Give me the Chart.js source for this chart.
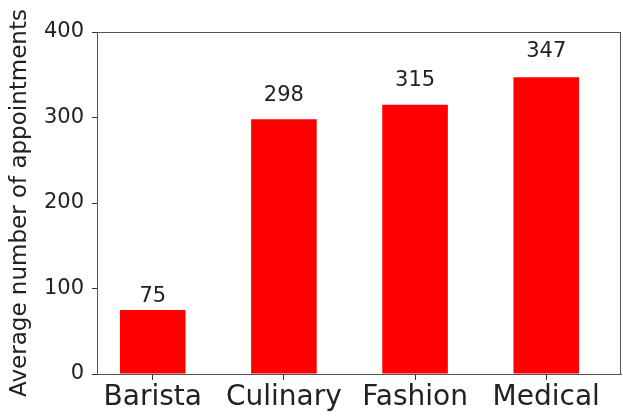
<!DOCTYPE html>
<html>
<head>
<meta charset="utf-8">
<script src="https://cdn.jsdelivr.net/npm/chart.js@4/dist/chart.umd.min.js"></script>
<style>
  html, body { margin: 0; padding: 0; background: #fff; }
  #wrap { width: 623px; height: 420px; }
</style>
</head>
<body>
<div id="wrap"><canvas id="chart" width="623" height="420"></canvas></div>
<script>
const categories = ['Barista', 'Culinary', 'Fashion', 'Medical'];
const appointments = [75, 298, 315, 347];
const yTicks = [0, 100, 200, 300, 400];

const textColor = '#222';
const fontFamily = "'DejaVu Sans', sans-serif";

// frame around the plot, like matplotlib spines
const frameBox = {
    id: 'frameBox',
    afterDraw(chart) {
        const a = chart.chartArea;
        const c = chart.ctx;
        c.save();
        c.strokeStyle = '#555';
        c.lineWidth = 1;
        c.strokeRect(Math.round(a.left) + 0.5, Math.round(a.top) + 0.5,
            Math.round(a.right - a.left) - 1, Math.round(a.bottom - a.top));
        c.restore();
    }
};

// value text above each bar
const barLabels = {
    id: 'barLabels',
    afterDatasetsDraw(chart) {
        const c = chart.ctx;
        const y = chart.scales.y;
        const meta = chart.getDatasetMeta(0);
        c.save();
        c.font = '21px ' + fontFamily;
        c.fillStyle = textColor;
        c.textAlign = 'center';
        c.textBaseline = 'bottom';
        meta.data.forEach((bar, i) => {
            const v = appointments[i];
            c.fillText(String(v), bar.x, y.getPixelForValue(v * 1.05));
        });
        c.restore();
    }
};

const ctx = document.getElementById('chart');

var myChart = new Chart(ctx, {
    type: 'bar',
    data: {
        datasets: [{
            data: appointments.map((v, i) => ({ x: i, y: v })),
            backgroundColor: '#ff0000',
            borderWidth: 0,
            barPercentage: 0.5,
            categoryPercentage: 1.0
        }]
    },
    options: {
        responsive: false,
        animation: false,
        devicePixelRatio: 1,
        layout: { padding: { top: 32, right: 2, left: 0, bottom: 0 } },
        plugins: {
            legend: { display: false },
            tooltip: { enabled: false }
        },
        scales: {
            x: {
                type: 'linear',
                offset: false,
                min: -0.425,
                max: 3.57,
                afterFit: s => { s.height = 46; },
                afterBuildTicks: s => { s.ticks = categories.map((c, i) => ({ value: i })); },
                grid: {
                    offset: false, drawOnChartArea: false, drawTicks: true,
                    tickLength: 6, color: '#333', tickColor: '#333', tickWidth: 1
                },
                border: { display: true, color: '#555', width: 1 },
                ticks: {
                    callback: v => categories[v],
                    color: textColor,
                    font: { family: fontFamily, size: 28 },
                    padding: 1,
                    maxRotation: 0,
                    autoSkip: false
                }
            },
            y: {
                min: 0,
                max: 400,
                afterFit: s => { s.width = 97; },
                afterBuildTicks: s => { s.ticks = yTicks.map(v => ({ value: v })); },
                grid: {
                    drawOnChartArea: false, drawTicks: true,
                    tickLength: 5, color: '#333', tickColor: '#333', tickWidth: 1
                },
                border: { display: true, color: '#555', width: 1 },
                ticks: {
                    color: textColor,
                    font: { family: fontFamily, size: 21 },
                    padding: 8
                },
                title: {
                    display: true,
                    text: 'Average number of appointments',
                    color: textColor,
                    font: { family: fontFamily, size: 23 },
                    padding: { top: 6, bottom: 0 }
                }
            }
        }
    },
    plugins: [frameBox, barLabels]
});
</script>
</body>
</html>
